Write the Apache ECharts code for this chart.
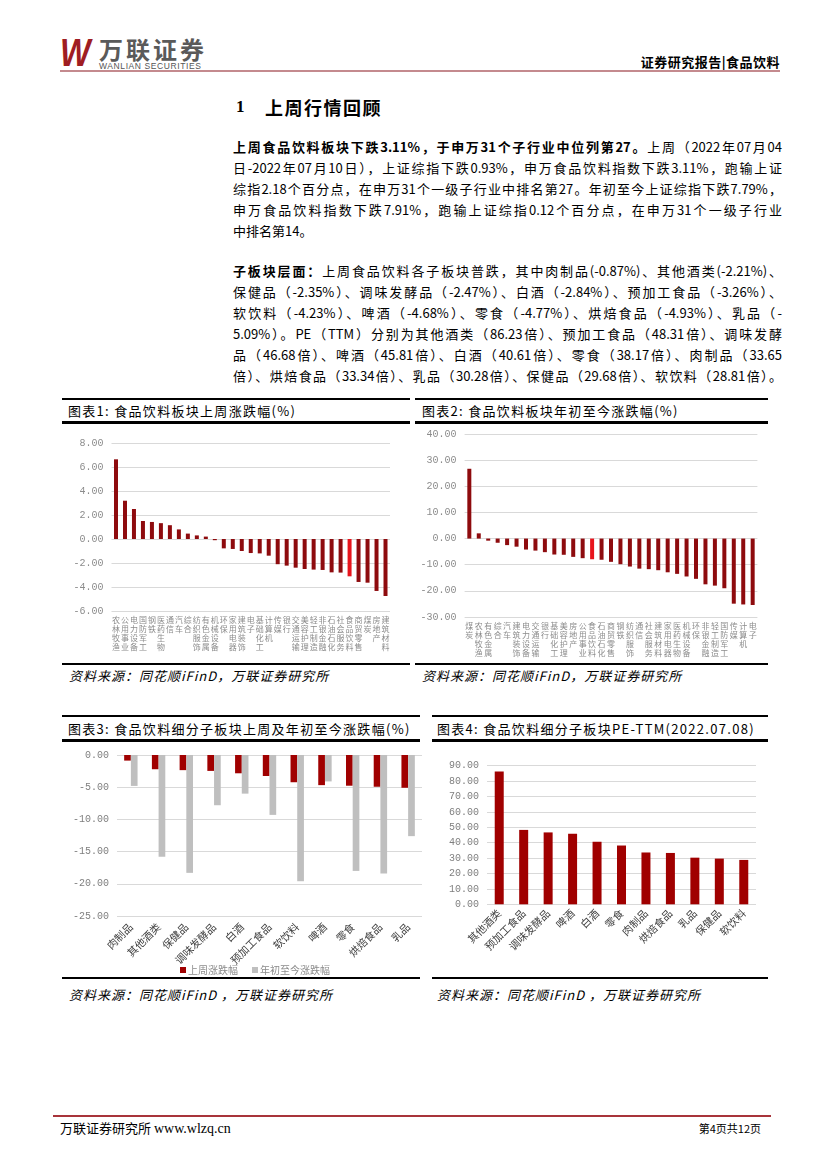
<!DOCTYPE html>
<html><head><meta charset="utf-8">
<script src="https://cdn.jsdelivr.net/npm/echarts@6/dist/echarts.min.js"></script>
<style>
body{margin:0;width:827px;height:1169px;position:relative;background:#fff;font-family:"Noto Sans CJK SC",sans-serif;color:#000;overflow:hidden}
.a{position:absolute}
.ln{position:absolute;left:233px;width:549px;height:21px;line-height:21px;font-size:13px;text-align:justify;text-align-last:justify}
.ln.last{text-align-last:left}
.hl{position:absolute;background:#000}
.ttl{position:absolute;font-size:13px;letter-spacing:1.3px;line-height:16px;white-space:nowrap}
.src{position:absolute;font-size:13px;font-style:italic;letter-spacing:1px;line-height:16px;white-space:nowrap}
.ch{position:absolute}
</style></head>
<body>
<!-- header -->
<div class="a" style="left:60px;top:32px;font-family:'Liberation Sans';font-weight:bold;font-style:italic;font-size:38px;line-height:42px;color:#9F1D22;transform:scaleX(0.85);transform-origin:left top">W</div>
<div class="a" style="left:99px;top:35px;font-size:24px;line-height:28px;font-weight:700;color:#5a5a5a;letter-spacing:3px">万联证券</div>
<div class="a" style="left:99px;top:62px;font-family:'Liberation Sans';font-size:8.5px;line-height:9px;color:#555;letter-spacing:0.6px">WANLIAN SECURITIES</div>
<div class="a" style="right:47px;top:54px;font-size:13px;line-height:16px;font-weight:700;letter-spacing:0.5px">证券研究报告|食品饮料</div>
<div class="hl" style="left:60px;top:70px;width:720px;height:2px;background:#C48A8E"></div>

<!-- heading -->
<div class="a" style="left:236px;top:96px;font-size:17px;line-height:22px;font-weight:700;font-family:'Liberation Serif'">1</div>
<div class="a" style="left:265px;top:96px;font-size:18px;line-height:22px;font-weight:700;letter-spacing:1.5px">上周行情回顾</div>

<div class="ln" style="top:136px"><b>上周食品饮料板块下跌3.11%，于申万31个子行业中位列第27。</b>上周（2022年07月04</div>
<div class="ln" style="top:157px">日-2022年07月10日），上证综指下跌0.93%，申万食品饮料指数下跌3.11%，跑输上证</div>
<div class="ln" style="top:178px">综指2.18个百分点，在申万31个一级子行业中排名第27。年初至今上证综指下跌7.79%，</div>
<div class="ln" style="top:199px">申万食品饮料指数下跌7.91%，跑输上证综指0.12个百分点，在申万31个一级子行业</div>
<div class="ln last" style="top:220px">中排名第14。</div>

<div class="ln" style="top:260px"><b>子板块层面：</b>上周食品饮料各子板块普跌，其中肉制品(-0.87%)、其他酒类(-2.21%)、</div>
<div class="ln" style="top:281px">保健品（-2.35%）、调味发酵品（-2.47%）、白酒（-2.84%）、预加工食品（-3.26%）、</div>
<div class="ln" style="top:302px">软饮料（-4.23%）、啤酒（-4.68%）、零食（-4.77%）、烘焙食品（-4.93%）、乳品（-</div>
<div class="ln" style="top:323px">5.09%）。PE（TTM）分别为其他酒类（86.23倍）、预加工食品（48.31倍）、调味发酵</div>
<div class="ln" style="top:344px">品（46.68倍）、啤酒（45.81倍）、白酒（40.61倍）、零食（38.17倍）、肉制品（33.65</div>
<div class="ln" style="top:365px">倍）、烘焙食品（33.34倍）、乳品（30.28倍）、保健品（29.68倍）、软饮料（28.81倍）。</div>

<!-- chart 1 frame -->
<div class="hl" style="left:62px;top:398px;width:348px;height:2px"></div>
<div class="ttl" style="left:68px;top:403px">图表1:  食品饮料板块上周涨跌幅(%)</div>
<div class="hl" style="left:62px;top:421px;width:348px;height:3px"></div>
<div class="hl" style="left:62px;top:663px;width:348px;height:2px"></div>
<div class="src" style="left:69px;top:668px">资料来源：同花顺iFinD，万联证券研究所</div>
<!-- chart 2 frame -->
<div class="hl" style="left:415px;top:398px;width:353px;height:2px"></div>
<div class="ttl" style="left:422px;top:403px">图表2:  食品饮料板块年初至今涨跌幅(%)</div>
<div class="hl" style="left:415px;top:421px;width:353px;height:3px"></div>
<div class="hl" style="left:415px;top:663px;width:353px;height:2px"></div>
<div class="src" style="left:422px;top:668px">资料来源：同花顺iFinD，万联证券研究所</div>
<!-- chart 3 frame -->
<div class="hl" style="left:62px;top:715px;width:358px;height:2px"></div>
<div class="ttl" style="left:68px;top:721px">图表3:  食品饮料细分子板块上周及年初至今涨跌幅(%)</div>
<div class="hl" style="left:62px;top:739px;width:358px;height:3px"></div>
<div class="hl" style="left:62px;top:977px;width:358px;height:2px"></div>
<div class="src" style="left:69px;top:987px">资料来源：同花顺iFinD ，万联证券研究所</div>
<!-- chart 4 frame -->
<div class="hl" style="left:432px;top:715px;width:336px;height:2px"></div>
<div class="ttl" style="left:437px;top:721px">图表4:  食品饮料细分子板块PE-TTM(2022.07.08)</div>
<div class="hl" style="left:432px;top:739px;width:336px;height:3px"></div>
<div class="hl" style="left:432px;top:977px;width:336px;height:2px"></div>
<div class="src" style="left:437px;top:987px">资料来源：同花顺iFinD ，万联证券研究所</div>

<div id="c1" class="ch" style="left:62px;top:425px;width:350px;height:237px"></div>
<div id="c2" class="ch" style="left:415px;top:425px;width:355px;height:237px"></div>
<div id="c3" class="ch" style="left:62px;top:743px;width:362px;height:233px"></div>
<div id="c4" class="ch" style="left:432px;top:743px;width:336px;height:233px"></div>

<!-- footer -->
<div class="hl" style="left:53px;top:1115px;width:718px;height:2px;background:#A8343A"></div>
<div class="a" style="left:60px;top:1120px;font-size:13px;line-height:16px">万联证券研究所 <span style="font-family:'Liberation Serif';font-size:14px">www.wlzq.cn</span></div>
<div class="a" style="right:66px;top:1121px;font-size:11px;line-height:14px">第4页共12页</div>

<script>
// ---- data ----
const industriesWeek = ['农林牧渔','公用事业','电力设备','国防军工','钢铁','医药生物','通信','汽车','综合','纺织服饰','有色金属','机械设备','环保','家用电器','建筑装饰','电子','基础化工','计算机','传媒','银行','交通运输','美容护理','轻工制造','非银金融','石油石化','社会服务','食品饮料','商贸零售','煤炭','房地产','建筑材料'];
const weekChange = [6.64,3.19,2.50,1.50,1.42,1.32,1.15,0.80,0.45,0.30,0.20,-0.10,-0.78,-0.83,-1.00,-1.17,-1.20,-1.39,-2.10,-2.22,-2.39,-2.50,-2.55,-2.58,-2.78,-2.80,-3.11,-3.58,-3.64,-4.33,-4.75];

const industriesYtd = ['煤炭','农林牧渔','有色金属','综合','汽车','建筑装饰','电力设备','交通运输','银行','基础化工','美容护理','房地产','公用事业','食品饮料','石油石化','商贸零售','钢铁','纺织服饰','通信','社会服务','建筑材料','家用电器','医药生物','机械设备','环保','非银金融','轻工制造','国防军工','传媒','计算机','电子'];
const ytdChange = [26.7,2.0,-0.8,-1.6,-2.5,-3.1,-4.2,-4.6,-5.2,-6.1,-6.2,-7.0,-7.5,-7.91,-8.1,-8.9,-9.8,-10.7,-11.5,-11.7,-12.1,-12.9,-13.5,-14.5,-15.4,-17.5,-18.0,-19.0,-24.9,-25.2,-25.4];

const subSectors = ['肉制品','其他酒类','保健品','调味发酵品','白酒','预加工食品','软饮料','啤酒','零食','烘焙食品','乳品'];
const subWeek = [-0.87,-2.21,-2.35,-2.47,-2.84,-3.26,-4.23,-4.68,-4.77,-4.93,-5.09];
const subYtd = [-4.8,-15.8,-18.3,-7.8,-6.0,-9.3,-19.6,-4.1,-18.0,-18.4,-12.6];
const seriesNames = ['上周涨跌幅','年初至今涨跌幅'];

const peSectors = ['其他酒类','预加工食品','调味发酵品','啤酒','白酒','零食','肉制品','烘焙食品','乳品','保健品','软饮料'];
const peTtm = [86.23,48.31,46.68,45.81,40.61,38.17,33.65,33.34,30.28,29.68,28.81];

const HIGHLIGHT = '食品饮料';

// ---- styles ----
const DARK = '#8E0B0E', BRIGHT = '#E8141C', RED3 = '#A00000', GRAY3 = '#BFBFBF';
const NUMF = "'Liberation Mono', monospace";
const CJK = "'Noto Sans CJK SC', sans-serif";
function yAx(min,max,interval,color){
  return {type:'value',min:min,max:max,interval:interval,
    axisLabel:{formatter:v=>v.toFixed(2),fontSize:10,color:color,fontFamily:NUMF,margin:8},
    splitLine:{lineStyle:{color:'#d9d9d9',width:1}},axisLine:{show:false},axisTick:{show:false}};
}
function vertAx(data){
  return {type:'category',data:data,axisLine:{show:false,onZero:false},axisTick:{show:false},
    axisLabel:{interval:0,formatter:s=>s.split('').join('\n'),fontSize:8,lineHeight:8.8,color:'#8c8c8c',margin:5,fontFamily:CJK}};
}

const c1 = echarts.init(document.getElementById('c1'));
c1.setOption({animation:false,
  grid:{left:49.5,right:22,top:18,bottom:51},
  xAxis:vertAx(industriesWeek),
  yAxis:yAx(-6,8,2,'#8c8c8c'),
  series:[{type:'bar',barWidth:4,data:weekChange.map((v,i)=>({value:v,itemStyle:{color:industriesWeek[i]===HIGHLIGHT?BRIGHT:DARK}}))}]
});

const c2 = echarts.init(document.getElementById('c2'));
c2.setOption({animation:false,
  grid:{left:49.6,right:12.6,top:9,bottom:45},
  xAxis:vertAx(industriesYtd),
  yAxis:yAx(-30,40,10,'#8c8c8c'),
  series:[{type:'bar',barWidth:4,data:ytdChange.map((v,i)=>({value:v,itemStyle:{color:industriesYtd[i]===HIGHLIGHT?BRIGHT:DARK}}))}]
});

const c3 = echarts.init(document.getElementById('c3'));
c3.setOption({animation:false,
  grid:{left:55,right:2,top:12,bottom:60},
  legend:{data:seriesNames,left:113,top:217,itemWidth:6,itemHeight:6,itemGap:14,icon:'rect',
    textStyle:{fontSize:10,color:'#8c8c8c',fontFamily:CJK,padding:[0,0,0,-3]}},
  xAxis:{type:'category',data:subSectors,axisLine:{show:false,onZero:false},axisTick:{show:false},
    axisLabel:{interval:0,rotate:45,fontSize:10.5,color:'#404040',margin:9,fontFamily:CJK}},
  yAxis:yAx(-25,0,5,'#7f7f7f'),
  series:[
    {name:seriesNames[0],type:'bar',barWidth:6.7,barGap:'0%',data:subWeek,itemStyle:{color:RED3}},
    {name:seriesNames[1],type:'bar',barWidth:6.7,barGap:'0%',data:subYtd,itemStyle:{color:GRAY3}}
  ]
});

const c4 = echarts.init(document.getElementById('c4'));
c4.setOption({animation:false,
  grid:{left:55,right:12,top:22.7,bottom:71.7},
  xAxis:{type:'category',data:peSectors,axisLine:{show:false},axisTick:{show:false},
    axisLabel:{interval:0,rotate:45,fontSize:10.5,color:'#404040',margin:7,fontFamily:CJK}},
  yAxis:yAx(0,90,10,'#7f7f7f'),
  series:[{type:'bar',barWidth:9,data:peTtm,itemStyle:{color:RED3}}]
});
</script>
</body></html>
